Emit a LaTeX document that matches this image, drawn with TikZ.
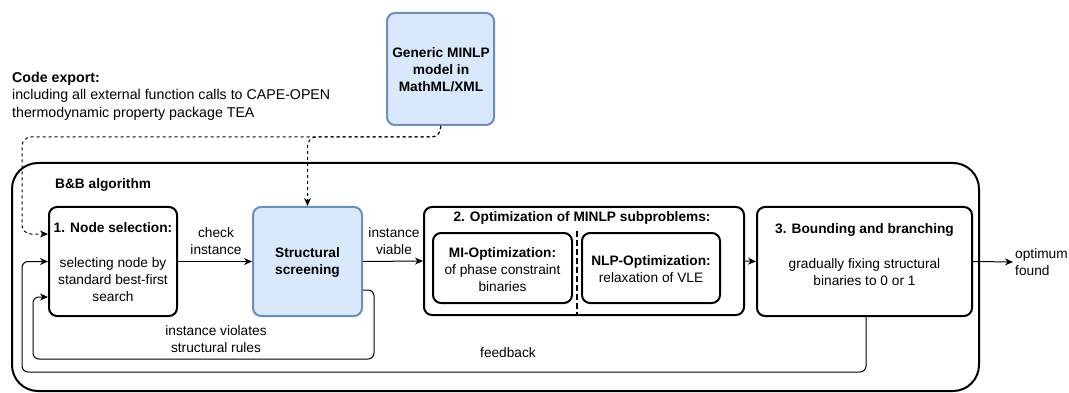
\documentclass[tikz,border=0pt]{standalone}
\usepackage{fontspec}
\setmainfont{Liberation Sans}
\usetikzlibrary{arrows.meta}
\definecolor{blueFill}{HTML}{DAE8FC}
\definecolor{blueLine}{HTML}{6C8EBF}

\begin{document}
\begin{tikzpicture}[x=1pt,y=-1pt,
  font=\fontsize{13.7}{17}\selectfont,
  box/.style={draw=black, line width=2pt, rounded corners=8pt, inner sep=0pt},
  bluebox/.style={draw=blueLine, fill=blueFill, line width=2pt, rounded corners=8pt, inner sep=0pt},
  lbl/.style={inner sep=0pt, align=center},
  tip/.style={-{Stealth[length=8pt,width=7pt,inset=2.5pt]}},
  conn/.style={line width=1pt, tip},
  loopline/.style={line width=1pt, rounded corners=6pt, tip},
  dashconn/.style={line width=1pt, dash pattern=on 3pt off 3pt, rounded corners=9pt, tip}
]
\useasboundingbox (0,0) rectangle (1069,393);

% outer frame of the branch-and-bound loop
\node[draw=black, line width=2pt, rounded corners=26pt, minimum width=967pt,
      minimum height=228pt, inner sep=0pt] (frame) at (495.5,277) {};
\node[lbl, anchor=west, font=\fontsize{13.7}{17}\selectfont\bfseries] (frameT) at (55,185) {B\&B algorithm};

% model source and export note
\node[bluebox, minimum width=107pt, minimum height=112pt] (gen) at (440.5,69) {};
\node[lbl, font=\fontsize{13.7}{17}\selectfont\bfseries] (genT) at (441,70) {Generic MINLP\\model in\\MathML/XML};
\node[lbl, anchor=west, align=left, font=\fontsize{14.2}{17.5}\selectfont] (code) at (12,96)
  {\textbf{Code export:}\\including all external function calls to CAPE-OPEN\\thermodynamic property package TEA};

% step 1
\node[box, minimum width=128pt, minimum height=109pt] (nsel) at (113,261.5) {};
\node[lbl, font=\fontsize{13.7}{17}\selectfont\bfseries] (nselT) at (113,228) {1. Node selection:};
\node[lbl] (nselB) at (113,280) {selecting node by\\standard best-first\\search};

% structural screening
\node[bluebox, minimum width=109pt, minimum height=109pt] (scr) at (307.5,261.5) {};
\node[lbl, font=\fontsize{13.7}{17}\selectfont\bfseries] (scrT) at (307.5,262) {Structural\\screening};

% step 2
\node[box, minimum width=320pt, minimum height=108pt] (opt) at (584,261) {};
\node[lbl, font=\fontsize{13.7}{17}\selectfont\bfseries] (optT) at (582,218) {2. Optimization of MINLP subproblems:};
\node[box, minimum width=139pt, minimum height=70pt] (mi) at (502.5,268) {};
\node[lbl] (miT) at (502.5,270) {\textbf{MI-Optimization:}\\of phase constraint\\binaries};
\node[box, minimum width=138pt, minimum height=70pt] (nlp) at (651,268) {};
\node[lbl] (nlpT) at (651,269) {\textbf{NLP-Optimization:}\\relaxation of VLE};
\coordinate (sepT) at (577,231);
\coordinate (sepB) at (577,315);
\draw[line width=2pt, dash pattern=on 6pt off 3pt] (sepT) -- (sepB);

% step 3
\node[box, minimum width=215pt, minimum height=109pt] (bnb) at (864.5,261.5) {};
\node[lbl, font=\fontsize{13.7}{17}\selectfont\bfseries] (bnbT) at (864.5,230) {3. Bounding and branching};
\node[lbl] (bnbB) at (864.5,272) {gradually fixing structural\\binaries to 0 or 1};

\node[lbl, anchor=west, align=left] (optm) at (1015,262) {optimum\\found};

% forward flow
\draw[conn] (nsel.east) -- (scr.west);
\node[lbl] (lcheck) at (216,241) {check\\instance};
\draw[conn] (scr.east) -- (opt.west);
\node[lbl] (lviable) at (394,241) {instance\\viable};
\draw[conn] (opt.east) -- (bnb.west);
\draw[conn, shorten >=2pt] (bnb.east) -- (optm.west);

% rejected instances
\coordinate (vR) at (374,359);
\coordinate (vL) at (33,359);
\draw[loopline] ([yshift=-28.5pt]scr.east) -| (vR) -- (vL) |- ([yshift=-35.5pt]nsel.west);
\node[lbl] (lviol) at (216,339) {instance violates\\structural rules};

% feedback after bounding
\coordinate (fL) at (22,372);
\draw[loopline] ([xshift=1.5pt]bnb.south) |- (fL) |- (nsel.west);
\node[lbl] (lfb) at (508,353) {feedback};

% model hand-over (dashed)
\coordinate (dL) at (22,137);
\draw[dashconn] (gen.south) |- (dL) |- ([yshift=27.5pt]nsel.west);
\draw[dashconn] (gen.south) |- (dL -| scr.north) -- (scr.north);
\end{tikzpicture}
\end{document}
